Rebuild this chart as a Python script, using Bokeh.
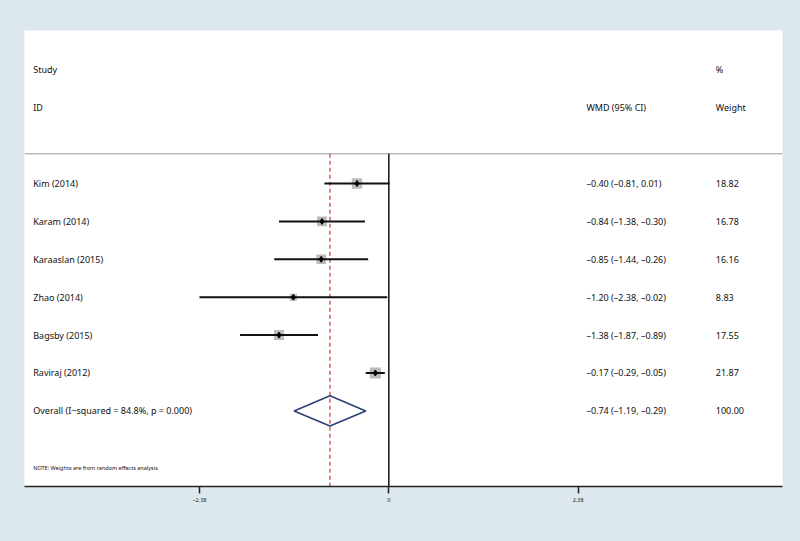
import math
import re
from bokeh.plotting import figure
from bokeh.models import Range1d, FixedTicker, ColumnDataSource
from bokeh.core.properties import value
from bokeh.embed import file_html
from bokeh.resources import INLINE

# ---- data ----
studies = ["Kim (2014)", "Karam (2014)", "Karaaslan (2015)", "Zhao (2014)",
           "Bagsby (2015)", "Raviraj (2012)"]
wmd = [-0.40, -0.84, -0.85, -1.20, -1.38, -0.17]
ci_lo = [-0.81, -1.38, -1.44, -2.38, -1.87, -0.29]
ci_hi = [0.01, -0.30, -0.26, -0.02, -0.89, -0.05]
weights = [18.82, 16.78, 16.16, 8.83, 17.55, 21.87]
overall_label = "Overall  (I\u2212squared = 84.8%, p = 0.000)"
overall_est = -0.74
overall_lo = -1.19
overall_hi = -0.29
overall_weight = 100.00
tick_values = [-2.38, 0, 2.38]
tick_labels = ["\u22122.38", "0", "2.38"]

BG = "#dde8ee"
FONT = "Noto Sans"

def fmt(v):
    return f"{v:.2f}".replace("-", "\u2013")

rows = [-(3 + i) for i in range(len(studies))]
overall_row = -(3 + len(studies))
sep_y = -2.216
X0, X1 = -4.579, 4.948
Y0, Y1 = -10.995, 1.037

p = figure(width=800, height=541, output_backend="svg", toolbar_location=None,
           x_range=Range1d(X0, X1), y_range=Range1d(Y0, Y1),
           min_border_left=24, min_border_right=18, min_border_top=30,
           min_border_bottom=55)
p.background_fill_color = "white"
p.border_fill_color = BG
p.outline_line_color = None
p.grid.visible = False
p.yaxis.visible = False

ax = p.xaxis[0]
ax.ticker = FixedTicker(ticks=tick_values)
ax.major_label_overrides = {t: l for t, l in zip(tick_values, tick_labels)}
ax.minor_tick_line_color = None
ax.axis_line_width = 1.5
ax.axis_line_color = "#222222"
ax.major_tick_line_width = 1.5
ax.major_tick_line_color = "#222222"
ax.major_tick_out = 7
ax.major_tick_in = 0
ax.major_label_standoff = 4
ax.major_label_text_font_size = "5.5px"
ax.major_label_text_font = FONT
ax.major_label_text_color = "#222222"

# separator line
p.segment(x0=[X0], y0=[sep_y], x1=[X1], y1=[sep_y], line_color="#b8b8b8", line_width=1.5)
# zero line
p.segment(x0=[0], y0=[sep_y], x1=[0], y1=[Y0], line_color="#111111", line_width=1.5)
# overall dashed line
p.segment(x0=[overall_est], y0=[sep_y], x1=[overall_est], y1=[Y0],
          line_color="#c0392b", line_width=1.2, line_dash="4 3")

x_lab = -4.469
x_ci = 2.483
x_wt = 4.11

src = ColumnDataSource(dict(
    y=rows, est=wmd, lo=ci_lo, hi=ci_hi,
    size=[2.4 * math.sqrt(w) for w in weights],
    label=studies,
    ci=[f"{fmt(e)} ({fmt(l)}, {fmt(h)})" for e, l, h in zip(wmd, ci_lo, ci_hi)],
    wt=[f"{w:.2f}" for w in weights],
))

p.scatter("est", "y", source=src, marker="square", size="size",
          fill_color="#a0a0a0", fill_alpha=0.7, line_color=None)
p.segment(x0="lo", y0="y", x1="hi", y1="y", source=src, line_color="#111111", line_width=2)
p.scatter("est", "y", source=src, marker="diamond", size=6, fill_color="black", line_color="black")

# diamond
h = 0.4
p.patch([overall_lo, overall_est, overall_hi, overall_est],
        [overall_row, overall_row + h, overall_row, overall_row - h],
        fill_color=None, line_color="#2b3f78", line_width=1.6)

common = dict(text_font=value(FONT), text_font_size="9px", text_color="#111111",
              text_baseline="middle", text_align="left")

p.text(x=value(x_lab), y="y", text="label", source=src, **common)
p.text(x=value(x_ci), y="y", text="ci", source=src, **common)
p.text(x=value(x_wt), y="y", text="wt", source=src, **common)

p.text(x=[x_lab], y=[overall_row], text=[overall_label], **common)
p.text(x=[x_ci], y=[overall_row],
       text=[f"{fmt(overall_est)} ({fmt(overall_lo)}, {fmt(overall_hi)})"], **common)
p.text(x=[x_wt], y=[overall_row], text=[f"{overall_weight:.2f}"], **common)

# headers
p.text(x=[x_lab, x_lab, x_ci, x_wt, x_wt], y=[0, -1, -1, 0, -1],
       text=["Study", "ID", "WMD (95% CI)", "%", "Weight"], **common)

# note
p.text(x=[x_lab], y=[-10.5], text=["NOTE: Weights are from random effects analysis"],
       text_font=value(FONT), text_font_size="5.5px", text_color="#111111",
       text_baseline="middle", text_align="left")

html = file_html(p, INLINE)
html = html.replace("</head>", "<style>html, body { background-color: %s; }</style></head>" % BG, 1)
open("out.html", "w").write(html)
